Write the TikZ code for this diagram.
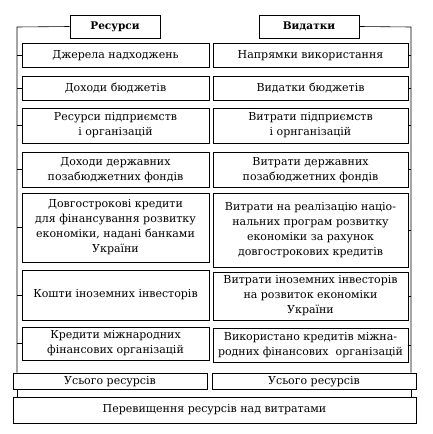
\documentclass[tikz,border=0pt]{standalone}
\usepackage{fontspec}
\setmainfont{DejaVu Serif}
\begin{document}
\begin{tikzpicture}[x=1pt,y=-1pt,
  box/.style={draw,line width=0.8pt,align=center,inner sep=0pt,
    font=\fontsize{11}{15}\selectfont},
  head/.style={box,font=\fontsize{10.5}{15}\selectfont\bfseries},
  conn/.style={line width=0.6pt}]
\useasboundingbox (0,0) rectangle (432,434);
\newcommand\mybox[6]{\node[#1,minimum width={#4-#2},minimum height={#5-#3}] (#6) at ({(#2+#4)/2},{(#3+#5)/2})}
\mybox{head}{70}{15}{160}{38}{lh} {Ресурси};
\mybox{head}{259}{15}{359}{38}{rh} {Видатки};
\mybox{box}{22}{43}{209}{67.5}{l1} {Джерела надходжень};
\mybox{box}{22}{76.5}{209}{100}{l2} {Доходи бюджетів};
\mybox{box}{22}{108}{209}{143}{l3} {Ресурси підприємств\\і організацій};
\mybox{box}{22}{152.5}{209}{187}{l4} {Доходи державних\\позабюджетних фондів};
\mybox{box}{22}{193}{209}{262}{l5} {Довгострокові кредити\\для фінансування розвитку\\економіки, надані банками\\України};
\mybox{box}{22}{270}{209}{320}{l6} {Кошти іноземних інвесторів};
\mybox{box}{22}{327}{209}{360}{l7} {Кредити міжнародних\\фінансових організацій};
\mybox{box}{213}{43}{408}{67.5}{r1} {Напрямки використання};
\mybox{box}{213}{76.5}{408}{100}{r2} {Видатки бюджетів};
\mybox{box}{213}{108}{408}{143}{r3} {Витрати підприємств\\і орнганізацій};
\mybox{box}{213}{152.5}{408}{187}{r4} {Витрати державних\\позабюджетних фондів};
\mybox{box}{213}{193}{408}{267}{r5} {Витрати на реалізацію націо-\\нальних програм розвитку\\економіки за рахунок\\довгострокових кредитів};
\mybox{box}{213}{272}{408}{320}{r6} {Витрати іноземних інвесторів\\на розвиток економіки\\України};
\mybox{box}{213}{328}{408}{362}{r7} {Використано кредитів міжна-\\родних фінансових\ \ організацій};
\mybox{box}{13}{373}{207}{389.5}{ls} {Усього ресурсів};
\mybox{box}{212}{373}{416}{389.5}{rs} {Усього ресурсів};
\mybox{box}{13}{397}{416}{423}{tot} {Перевищення ресурсів над витратами};
\coordinate (lbar) at (17,27);
\coordinate (rbar) at (411,27);
\draw[conn] (lh.west) -- (lbar) -- (ls.north -| lbar);
\draw[conn] (ls.south -| lbar) -- (tot.north -| lbar);
\draw[conn] (rh.east) -- (rbar) -- (rs.north -| rbar);
\draw[conn] (rs.south -| rbar) -- (tot.north -| rbar);
\foreach \nn in {l1,l2,l3,l4,l5,l6,l7} {\draw[conn] (\nn.west) -- (\nn.west -| lbar);}
\foreach \nn in {r1,r2,r3,r4,r5,r6,r7} {\draw[conn] (\nn.east) -- (\nn.east -| rbar);}
\end{tikzpicture}
\end{document}
